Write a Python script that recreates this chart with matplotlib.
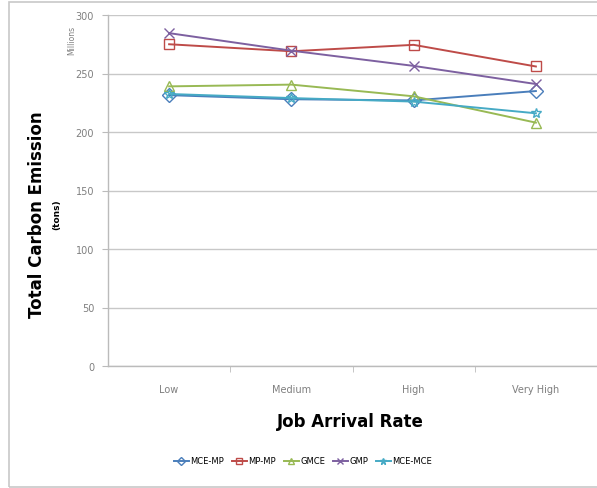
import matplotlib
matplotlib.use('Agg')
import matplotlib.pyplot as plt
from matplotlib.patches import Rectangle

categories = ['Low', 'Medium', 'High', 'Very High']
mce_mp  = [231.5, 228, 227, 235]
mp_mp   = [275, 269, 274.5, 256]
gmce    = [239, 240.5, 230.5, 208]
gmp     = [284.5, 269.5, 256.5, 241]
mce_mce = [232.5, 229, 226, 216]

series = [
    ('MCE-MP',  mce_mp,  '#4A7EBB', 'D'),
    ('MP-MP',   mp_mp,   '#BE4B48', 's'),
    ('GMCE',    gmce,    '#98B954', '^'),
    ('GMP',     gmp,     '#7D60A0', 'x'),
    ('MCE-MCE', mce_mce, '#46AAC5', '*'),
]

fig = plt.figure(figsize=(5.97, 4.89), dpi=100)
ax = fig.add_axes([108 / 597, 1 - 367 / 489, 489 / 597, 351 / 489])

x = list(range(len(categories)))
for name, vals, col, mk in series:
    ax.plot(x, vals, color=col, lw=1.4, marker=mk, ms=7.5,
            mfc='none', mec=col, mew=1.0, label=name)

ax.set_xlim(-0.5, 3.5)
ax.set_ylim(0, 300)
ax.set_yticks(range(0, 301, 50))
ax.set_xticks(x)
ax.set_xticklabels(categories)
ax.set_xticks([0.5, 1.5, 2.5], minor=True)
ax.tick_params(axis='x', which='major', length=0, pad=13, labelsize=7, colors='#7f7f7f')
ax.tick_params(axis='x', which='minor', length=4, color='#bbbbbb', direction='out')
ax.tick_params(axis='y', length=4, color='#bbbbbb', labelsize=7, colors='#7f7f7f', pad=6)
ax.grid(axis='y', color='#c8c8c8', lw=1.0)
ax.set_axisbelow(True)
for s in ['top', 'right']:
    ax.spines[s].set_visible(False)
for s in ['left', 'bottom']:
    ax.spines[s].set_color('#bbbbbb')
    ax.spines[s].set_linewidth(1.0)

fig.text(37 / 597, 1 - 215 / 489, 'Total Carbon Emission', rotation=90,
         ha='center', va='center', fontsize=12, fontweight='bold')
fig.text(57 / 597, 1 - 215 / 489, '(tons)', rotation=90,
         ha='center', va='center', fontsize=6.5, fontweight='bold')
fig.text(72 / 597, 1 - 40 / 489, 'Millions', rotation=90,
         ha='center', va='center', fontsize=5.5, color='#7f7f7f')
fig.text(350 / 597, 1 - 422 / 489, 'Job Arrival Rate', ha='center', va='center',
         fontsize=12, fontweight='bold')

fig.legend(loc='center', bbox_to_anchor=(303 / 597, 1 - 462 / 489), ncol=5,
           frameon=False, fontsize=6, handlelength=1.8, columnspacing=0.9,
           handletextpad=0.2, markerscale=0.6)

fig.patches.append(Rectangle((9 / 597, 1 / 489), 600 / 597, 485 / 489,
                             transform=fig.transFigure, fill=False,
                             ec='#c8c8c8', lw=1.2))

fig.savefig('out.png', dpi=100)
